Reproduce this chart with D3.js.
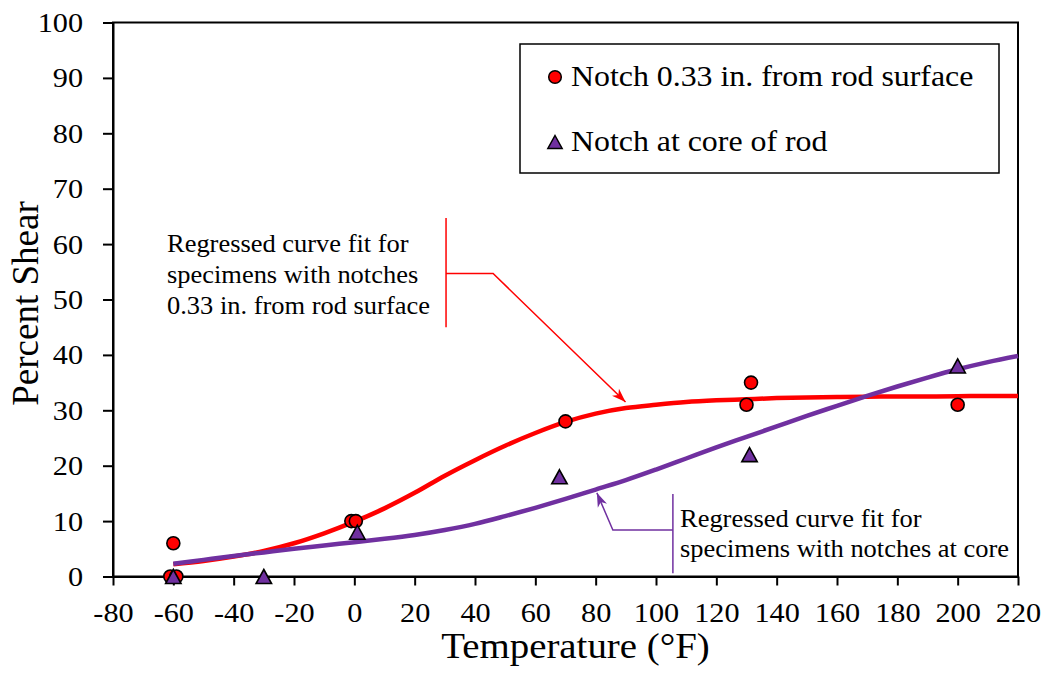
<!DOCTYPE html>
<html>
<head>
<meta charset="utf-8">
<script src="https://cdn.jsdelivr.net/npm/d3@7"></script>
<style>
  body { margin: 0; background: #fff; }
  svg { display: block; }
  text { font-family: "Liberation Serif", "Times New Roman", serif; fill: #000; }
</style>
</head>
<body>
<svg id="chart" width="1045" height="679"></svg>
<script>
// Axis ticks
const xTickValues = [-80, -60, -40, -20, 0, 20, 40, 60, 80, 100, 120, 140, 160, 180, 200, 220];
const yTickValues = [0, 10, 20, 30, 40, 50, 60, 70, 80, 90, 100];

// Measured Charpy specimens: notch 0.33 in. from rod surface
const surfaceTemps = [-60, -61, -59, -1, 0.5, 70, 130, 131.5, 200];
const surfaceShear = [6, 0, 0, 10, 10, 28, 31, 35, 31];

// Measured Charpy specimens: notch at core of rod
const coreTemps = [-60, -30, 1, 68, 131, 200];
const coreShear = [0, 0, 8, 18, 22, 38];

// Regressed curve fits, sampled every 10 °F
const fitTemps = [-60, -50, -40, -30, -20, -10, 0, 10, 20, 30, 40, 50, 60, 70, 80, 90, 100,
                  110, 120, 130, 140, 150, 160, 170, 180, 190, 200, 210, 220];
const surfaceFit = [2.2, 2.8, 3.6, 4.6, 6.0, 7.8, 9.9, 12.3, 15.1, 18.2, 21.0, 23.6, 25.9, 27.9, 29.4, 30.4, 31.0,
                    31.5, 31.8, 32.0, 32.2, 32.3, 32.4, 32.45, 32.5, 32.5, 32.55, 32.6, 32.6];
const coreFit = [2.3, 3.0, 3.7, 4.35, 5.0, 5.6, 6.2, 6.8, 7.5, 8.4, 9.5, 10.9, 12.4, 14.0, 15.7, 17.4, 19.3,
                 21.3, 23.3, 25.2, 27.1, 29.0, 30.8, 32.6, 34.3, 35.9, 37.4, 38.7, 39.8];

// Series labels and annotation text
const seriesNames = ["Notch 0.33 in. from rod surface", "Notch at core of rod"];
const surfaceNote = ["Regressed curve fit for", "specimens with notches", "0.33 in. from rod surface"];
const coreNote = ["Regressed curve fit for", "specimens with notches at core"];

const RED = "#ff0000";
const PURPLE = "#7030a0";
const STRETCH = 1.08;

const svg = d3.select("#chart");
const x = d3.scaleLinear().domain([-80, 220]).range([113, 1018]);
const y = d3.scaleLinear().domain([0, 100]).range([576.5, 22.5]);

const triangle = s => `M0,${-s / 2}L${s * 0.55},${s / 2}L${-s * 0.55},${s / 2}Z`;

function stretchText(sel) {
  sel.each(function () {
    const t = d3.select(this);
    const tx = +t.attr("x") || 0;
    t.attr("x", tx / STRETCH).attr("transform", `scale(${STRETCH},1)`);
  });
}

// Arrowheads
const defs = svg.append("defs");
[["arrowRed", RED], ["arrowPurple", PURPLE]].forEach(([id, c]) => {
  defs.append("marker")
    .attr("id", id)
    .attr("viewBox", "-15 -6 16 12")
    .attr("refX", 0).attr("refY", 0)
    .attr("markerUnits", "userSpaceOnUse")
    .attr("markerWidth", 16).attr("markerHeight", 12)
    .attr("orient", "auto")
    .append("path")
    .attr("d", "M0,0L-14,-5L-10,0L-14,5Z")
    .attr("fill", c);
});

// Plot frame
svg.append("rect")
  .attr("x", x(-80)).attr("y", y(100))
  .attr("width", x(220) - x(-80)).attr("height", y(0) - y(100))
  .attr("fill", "none").attr("stroke", "#000").attr("stroke-width", 2);

// Axes
const xAxis = svg.append("g")
  .attr("transform", `translate(0,${y(0)})`)
  .call(d3.axisBottom(x).tickValues(xTickValues).tickSize(9).tickSizeOuter(0)
    .tickPadding(16.5).tickFormat(d => String(d)));
const yAxis = svg.append("g")
  .attr("transform", `translate(${x(-80)},0)`)
  .call(d3.axisLeft(y).tickValues(yTickValues).tickSize(10).tickSizeOuter(0)
    .tickPadding(20).tickFormat(d => String(d)));
[xAxis, yAxis].forEach(g => {
  g.select(".domain").attr("stroke-width", 2);
  g.selectAll(".tick line").attr("stroke-width", 2);
  g.selectAll(".tick text").attr("fill", "#000")
    .style("font-family", '"Liberation Serif", "Times New Roman", serif')
    .style("font-size", "28px")
    .call(stretchText);
});

// Axis titles
svg.append("text")
  .attr("transform", `translate(${(x(-80) + x(220)) / 2 + 10},658) scale(${STRETCH},1)`)
  .attr("text-anchor", "middle").style("font-size", "36px")
  .text("Temperature (°F)");
svg.append("text")
  .attr("transform", `translate(38,${(y(0) + y(100)) / 2 + 4}) rotate(-90)`)
  .attr("text-anchor", "middle").style("font-size", "37px")
  .text("Percent Shear");

// Regressed curves
const line = (vals) => d3.line()
  .x((d, i) => x(fitTemps[i]))
  .y(d => y(d))
  .curve(d3.curveCatmullRom.alpha(0.5))(vals);
svg.append("path").attr("d", line(surfaceFit))
  .attr("fill", "none").attr("stroke", RED).attr("stroke-width", 4.5).attr("stroke-linecap", "butt");
svg.append("path").attr("d", line(coreFit))
  .attr("fill", "none").attr("stroke", PURPLE).attr("stroke-width", 4.5).attr("stroke-linecap", "butt");

// Measured points
svg.append("g").selectAll("circle")
  .data(surfaceTemps.map((t, i) => [t, surfaceShear[i]]))
  .join("circle")
  .attr("cx", d => x(d[0])).attr("cy", d => y(d[1])).attr("r", 6.5)
  .attr("fill", RED).attr("stroke", "#000").attr("stroke-width", 1.6);
svg.append("g").selectAll("path")
  .data(coreTemps.map((t, i) => [t, coreShear[i]]))
  .join("path")
  .attr("transform", d => `translate(${x(d[0])},${y(d[1])})`)
  .attr("d", triangle(14))
  .attr("fill", PURPLE).attr("stroke", "#000").attr("stroke-width", 1.6).attr("stroke-linejoin", "miter");

// Annotation: surface-notch fit
const rA = { bracketX: 30.4, top: 64.7, bottom: 45.0, elbowY: 54.7, elbowX: 46.0, tipX: 89.9, tipY: 31.5 };
svg.append("line")
  .attr("x1", x(rA.bracketX)).attr("x2", x(rA.bracketX))
  .attr("y1", y(rA.top)).attr("y2", y(rA.bottom))
  .attr("stroke", RED).attr("stroke-width", 1.5);
svg.append("polyline")
  .attr("points", [[x(rA.bracketX), y(rA.elbowY)], [x(rA.elbowX), y(rA.elbowY)], [x(rA.tipX), y(rA.tipY)]].join(" "))
  .attr("fill", "none").attr("stroke", RED).attr("stroke-width", 1.5)
  .attr("marker-end", "url(#arrowRed)");
surfaceNote.forEach((s, i) => {
  svg.append("text")
    .attr("transform", `translate(167,${252 + i * 31}) scale(${STRETCH},1)`)
    .style("font-size", "24.5px").text(s);
});

// Annotation: core-notch fit
const pA = { bracketX: 105.6, top: 14.9, bottom: 0.6, elbowY: 8.4, elbowX: 85.7, tipX: 80.4, tipY: 15.1 };
svg.append("line")
  .attr("x1", x(pA.bracketX)).attr("x2", x(pA.bracketX))
  .attr("y1", y(pA.top)).attr("y2", y(pA.bottom))
  .attr("stroke", PURPLE).attr("stroke-width", 1.5);
svg.append("polyline")
  .attr("points", [[x(pA.bracketX), y(pA.elbowY)], [x(pA.elbowX), y(pA.elbowY)], [x(pA.tipX), y(pA.tipY)]].join(" "))
  .attr("fill", "none").attr("stroke", PURPLE).attr("stroke-width", 1.5)
  .attr("marker-end", "url(#arrowPurple)");
coreNote.forEach((s, i) => {
  svg.append("text")
    .attr("transform", `translate(680,${527 + i * 30}) scale(${STRETCH},1)`)
    .style("font-size", "24.5px").text(s);
});

// Legend
const legend = svg.append("g");
legend.append("rect")
  .attr("x", 520).attr("y", 44).attr("width", 479).attr("height", 129)
  .attr("fill", "#fff").attr("stroke", "#000").attr("stroke-width", 1.5);
legend.append("circle")
  .attr("cx", 555).attr("cy", 77).attr("r", 6.3)
  .attr("fill", RED).attr("stroke", "#000").attr("stroke-width", 1.5);
legend.append("path")
  .attr("transform", "translate(555,142)").attr("d", triangle(13))
  .attr("fill", PURPLE).attr("stroke", "#000").attr("stroke-width", 1.5);
seriesNames.forEach((s, i) => {
  legend.append("text")
    .attr("transform", `translate(571,${86 + i * 65}) scale(${STRETCH},1)`)
    .style("font-size", "29.5px").text(s);
});
</script>
</body>
</html>
